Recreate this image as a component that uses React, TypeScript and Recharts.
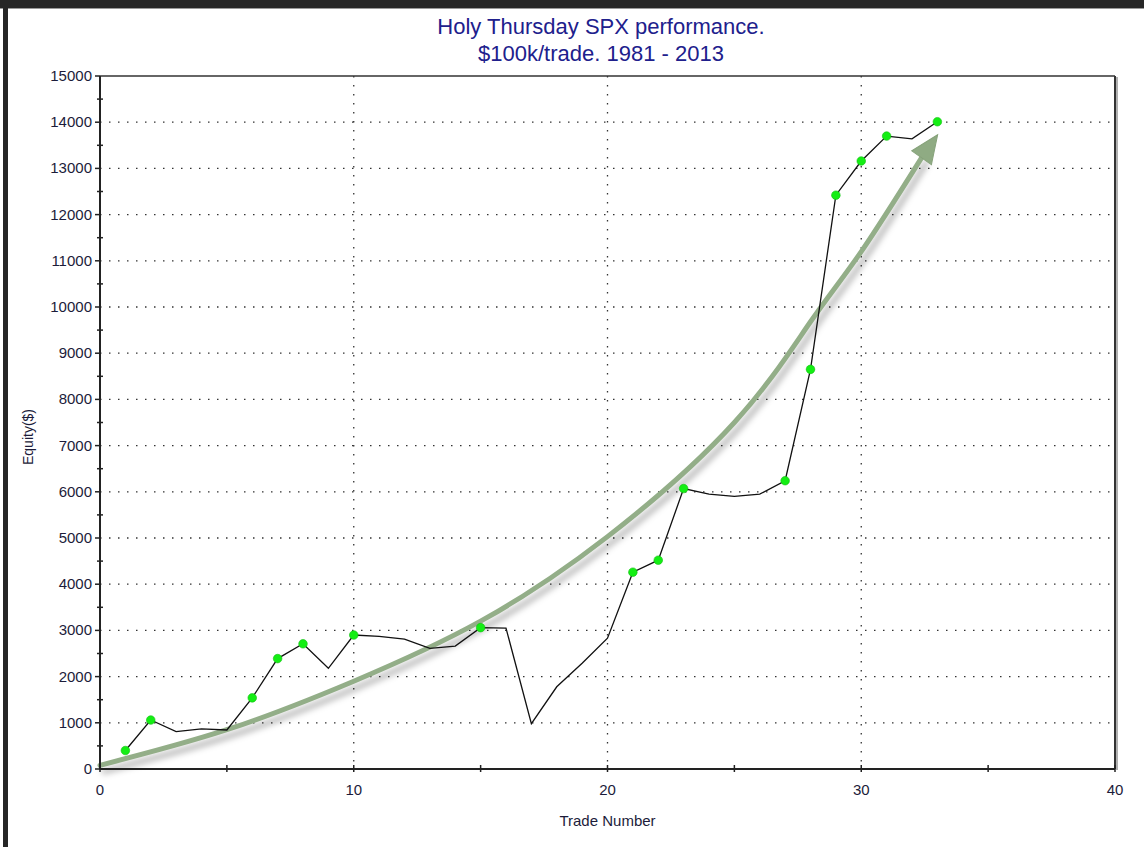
import React from 'react';
import {
  LineChart,
  Line,
  XAxis,
  YAxis,
  CartesianGrid,
  ReferenceLine,
} from 'recharts';

// equity curve, one point per trade
const trades = [
  1, 2, 3, 4, 5, 6, 7, 8, 9, 10, 11, 12, 13, 14, 15, 16, 17,
  18, 19, 20, 21, 22, 23, 24, 25, 26, 27, 28, 29, 30, 31, 32, 33,
];
const equity = [
  400, 1060, 810, 870, 845, 1540, 2390, 2710, 2180, 2900, 2870, 2810, 2610, 2660, 3060, 3050, 980,
  1780, 2290, 2830, 4260, 4520, 6070, 5950, 5900, 5950, 6240, 8650, 12420, 13160, 13700, 13640, 14010,
];
// trades drawn with a green marker
const marked = [1, 2, 6, 7, 8, 10, 15, 21, 22, 23, 27, 28, 29, 30, 31, 33];

// hand drawn trend arrow
const arrowX = [0, 5, 10, 15, 20, 25, 28, 30, 32.4];
const arrowY = [80, 850, 1900, 3200, 5030, 7500, 9680, 11200, 13250];

const xTicks = [0, 5, 10, 15, 20, 25, 30, 35, 40];
const xLabelled = [0, 10, 20, 30, 40];
const yTicks = Array.from({ length: 31 }, (_, i) => i * 500);
const gridX = [10, 20, 30];
const gridY = [1000, 2000, 3000, 4000, 5000, 6000, 7000, 8000, 9000, 10000, 11000, 12000, 13000, 14000];

const equityData = trades.map((t, i) => ({ trade: t, equity: equity[i], marked: marked.includes(t) }));
const arrowData = arrowX.map((x, i) => ({ trade: x, equity: arrowY[i] }));

const FONT = '"Liberation Sans", Arial, sans-serif';
const INK = '#1c1c3a';

const YTick = (props: any) => {
  const { x, y, payload } = props;
  const major = payload.value % 1000 === 0;
  return (
    <g>
      <line x1={major ? x - 5 : x - 3} x2={major ? x : x + 3} y1={y} y2={y} stroke="#222" strokeWidth={1.5} />
      {major && (
        <text x={x - 8} y={y} dy={5} textAnchor="end" fontSize={15} fontFamily={FONT} fill={INK}>
          {payload.value}
        </text>
      )}
    </g>
  );
};

const XTick = (props: any) => {
  const { x, y, payload } = props;
  return (
    <g>
      <line x1={x} x2={x} y1={y - 4} y2={y + 3} stroke="#222" strokeWidth={1.5} />
      {xLabelled.includes(payload.value) && (
        <text x={x} y={y + 26} textAnchor="middle" fontSize={15} fontFamily={FONT} fill={INK}>
          {payload.value}
        </text>
      )}
    </g>
  );
};

const EquityDot = (props: any) => {
  const { cx, cy, payload, index } = props;
  if (!payload.marked) return <g key={index} />;
  return <circle key={index} cx={cx} cy={cy} r={4.3} fill="#14ee14" stroke="#10c010" strokeWidth={0.6} />;
};

const ArrowHead = (props: any) => {
  const { cx, cy, index } = props;
  if (index !== arrowData.length - 1) return <g key={index} />;
  return (
    <g key={index} transform={`translate(${cx},${cy}) rotate(-55)`}>
      <polygon points="27,0 -1,-12 -1,12" fill="#8fab83" stroke="#86a27a" strokeWidth={1} />
    </g>
  );
};

const YLabel = () => (
  <text transform="translate(33,437) rotate(-90)" textAnchor="middle" fontSize={14} fontFamily={FONT} fill={INK}>
    Equity($)
  </text>
);

export default function App() {
  return (
    <div style={{ position: 'absolute', left: 0, top: 0, width: 1144, height: 847, background: '#fff', overflow: 'hidden' }}>
      <style>{`
        .arrow-line { filter: drop-shadow(4px 6px 3px rgba(0,0,0,0.3)); }
        .plot-edge { filter: drop-shadow(2px 1px 0 #b0b0b0); }
      `}</style>
      <div style={{ position: 'absolute', left: 0, top: 0, width: 1144, height: 8, background: '#262626', borderBottom: '1px solid #999' }} />
      <div style={{ position: 'absolute', left: 3, top: 0, width: 5, height: 847, background: '#262626' }} />
      <div
        style={{
          position: 'absolute',
          left: 0,
          top: 13,
          width: 1202,
          textAlign: 'center',
          fontFamily: FONT,
          fontSize: 22,
          lineHeight: '27px',
          color: '#20208c',
        }}
      >
        Holy Thursday SPX performance.
        <br />
        $100k/trade. 1981 - 2013
      </div>
      <LineChart width={1144} height={847} margin={{ top: 76, right: 29, left: 0, bottom: 0 }}>
        <CartesianGrid
          horizontal
          vertical
          horizontalValues={gridY}
          verticalValues={gridX}
          stroke="#333"
          strokeWidth={1.3}
          strokeDasharray="1.5 7.5"
        />
        <XAxis
          type="number"
          dataKey="trade"
          domain={[0, 40]}
          ticks={xTicks}
          interval={0}
          height={78}
          tickSize={0}
          tickMargin={0}
          tickLine={false}
          axisLine={{ stroke: '#222', strokeWidth: 2 }}
          tick={<XTick />}
          label={{ value: 'Trade Number', position: 'insideBottom', offset: 21, fontSize: 15, fontFamily: FONT, fill: INK }}
        />
        <YAxis
          type="number"
          dataKey="equity"
          domain={[0, 15000]}
          ticks={yTicks}
          interval={0}
          width={100}
          tickSize={0}
          tickMargin={0}
          tickLine={false}
          axisLine={{ stroke: '#222', strokeWidth: 2 }}
          tick={<YTick />}
          label={{ content: <YLabel /> }}
        />
        <ReferenceLine y={15000} stroke="#333" strokeWidth={1.5} />
        <ReferenceLine x={40} stroke="#333" strokeWidth={2} className="plot-edge" />
        <Line
          data={arrowData}
          dataKey="equity"
          type="natural"
          stroke="#93ae88"
          strokeWidth={5}
          strokeLinecap="round"
          className="arrow-line"
          dot={<ArrowHead />}
          activeDot={false}
          isAnimationActive={false}
        />
        <Line
          data={equityData}
          dataKey="equity"
          type="linear"
          stroke="#111"
          strokeWidth={1.3}
          dot={<EquityDot />}
          activeDot={false}
          isAnimationActive={false}
        />
      </LineChart>
    </div>
  );
}
